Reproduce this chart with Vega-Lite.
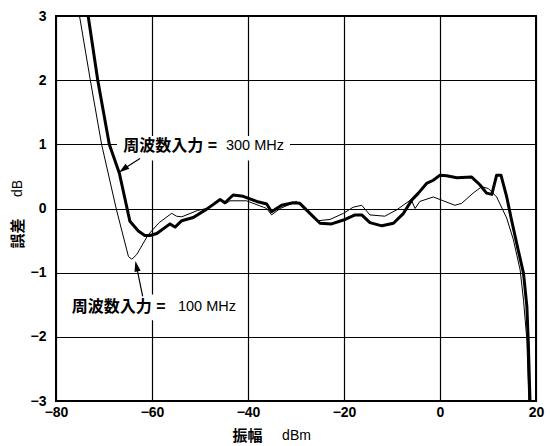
{
  "$schema": "https://vega.github.io/schema/vega-lite/v6.json",
  "width": 480,
  "height": 385,
  "autosize": "none",
  "padding": {"left": 56, "top": 16, "right": 14, "bottom": 45},
  "background": "white",
  "config": {
    "view": {"stroke": "black", "strokeWidth": 2},
    "font": "Liberation Sans",
    "axis": {
      "labelFont": "Liberation Sans",
      "labelColor": "black",
      "titleColor": "black",
      "titleFont": "Liberation Sans, Noto Sans CJK JP"
    }
  },
  "datasets": {
    "curves": [
      {"series": "300 MHz", "x": -73.3, "y": 3.0},
      {"series": "300 MHz", "x": -71.3, "y": 2.0},
      {"series": "300 MHz", "x": -68.9, "y": 1.0},
      {"series": "300 MHz", "x": -66.8, "y": 0.55},
      {"series": "300 MHz", "x": -64.6, "y": -0.2},
      {"series": "300 MHz", "x": -62.85, "y": -0.35},
      {"series": "300 MHz", "x": -61.5, "y": -0.42},
      {"series": "300 MHz", "x": -60.4, "y": -0.42},
      {"series": "300 MHz", "x": -59.0, "y": -0.39},
      {"series": "300 MHz", "x": -56.25, "y": -0.24},
      {"series": "300 MHz", "x": -55.2, "y": -0.29},
      {"series": "300 MHz", "x": -53.8, "y": -0.19},
      {"series": "300 MHz", "x": -51.4, "y": -0.14},
      {"series": "300 MHz", "x": -48.6, "y": -0.01},
      {"series": "300 MHz", "x": -45.8, "y": 0.14},
      {"series": "300 MHz", "x": -44.8, "y": 0.09},
      {"series": "300 MHz", "x": -43.1, "y": 0.21},
      {"series": "300 MHz", "x": -41.0, "y": 0.19},
      {"series": "300 MHz", "x": -38.2, "y": 0.11},
      {"series": "300 MHz", "x": -36.1, "y": 0.07},
      {"series": "300 MHz", "x": -35.1, "y": -0.05},
      {"series": "300 MHz", "x": -33.0, "y": 0.05},
      {"series": "300 MHz", "x": -30.6, "y": 0.09},
      {"series": "300 MHz", "x": -29.2, "y": 0.08},
      {"series": "300 MHz", "x": -27.1, "y": -0.075},
      {"series": "300 MHz", "x": -25.0, "y": -0.23},
      {"series": "300 MHz", "x": -22.6, "y": -0.24},
      {"series": "300 MHz", "x": -20.1, "y": -0.18},
      {"series": "300 MHz", "x": -17.7, "y": -0.1},
      {"series": "300 MHz", "x": -16.3, "y": -0.1},
      {"series": "300 MHz", "x": -14.6, "y": -0.22},
      {"series": "300 MHz", "x": -12.1, "y": -0.27},
      {"series": "300 MHz", "x": -9.7, "y": -0.23},
      {"series": "300 MHz", "x": -7.6, "y": -0.075},
      {"series": "300 MHz", "x": -5.9, "y": 0.13},
      {"series": "300 MHz", "x": -4.5, "y": 0.24},
      {"series": "300 MHz", "x": -2.8, "y": 0.39},
      {"series": "300 MHz", "x": -1.4, "y": 0.44},
      {"series": "300 MHz", "x": 0.0, "y": 0.52},
      {"series": "300 MHz", "x": 1.4, "y": 0.51},
      {"series": "300 MHz", "x": 3.5, "y": 0.48},
      {"series": "300 MHz", "x": 6.6, "y": 0.49},
      {"series": "300 MHz", "x": 8.3, "y": 0.37},
      {"series": "300 MHz", "x": 9.7, "y": 0.24},
      {"series": "300 MHz", "x": 10.8, "y": 0.22},
      {"series": "300 MHz", "x": 11.8, "y": 0.52},
      {"series": "300 MHz", "x": 12.7, "y": 0.52},
      {"series": "300 MHz", "x": 13.9, "y": 0.18},
      {"series": "300 MHz", "x": 14.9, "y": -0.18},
      {"series": "300 MHz", "x": 16.3, "y": -0.65},
      {"series": "300 MHz", "x": 17.4, "y": -1.01},
      {"series": "300 MHz", "x": 18.1, "y": -1.53},
      {"series": "300 MHz", "x": 18.4, "y": -2.1},
      {"series": "300 MHz", "x": 18.75, "y": -3.0},
      {"series": "100 MHz", "x": -75.1, "y": 3.0},
      {"series": "100 MHz", "x": -72.85, "y": 2.0},
      {"series": "100 MHz", "x": -70.5, "y": 1.0},
      {"series": "100 MHz", "x": -67.4, "y": -0.02},
      {"series": "100 MHz", "x": -64.9, "y": -0.75},
      {"series": "100 MHz", "x": -64.2, "y": -0.79},
      {"series": "100 MHz", "x": -63.2, "y": -0.72},
      {"series": "100 MHz", "x": -60.8, "y": -0.41},
      {"series": "100 MHz", "x": -58.5, "y": -0.22},
      {"series": "100 MHz", "x": -55.9, "y": -0.075},
      {"series": "100 MHz", "x": -54.9, "y": -0.12},
      {"series": "100 MHz", "x": -53.8, "y": -0.13},
      {"series": "100 MHz", "x": -50.5, "y": -0.03},
      {"series": "100 MHz", "x": -48.6, "y": 0.0},
      {"series": "100 MHz", "x": -45.8, "y": 0.13},
      {"series": "100 MHz", "x": -44.8, "y": 0.07},
      {"series": "100 MHz", "x": -43.75, "y": 0.12},
      {"series": "100 MHz", "x": -40.3, "y": 0.12},
      {"series": "100 MHz", "x": -36.8, "y": 0.02},
      {"series": "100 MHz", "x": -36.1, "y": 0.0},
      {"series": "100 MHz", "x": -35.1, "y": -0.1},
      {"series": "100 MHz", "x": -33.3, "y": 0.0},
      {"series": "100 MHz", "x": -29.9, "y": 0.11},
      {"series": "100 MHz", "x": -25.3, "y": -0.19},
      {"series": "100 MHz", "x": -22.9, "y": -0.17},
      {"series": "100 MHz", "x": -20.1, "y": -0.075},
      {"series": "100 MHz", "x": -18.1, "y": 0.02},
      {"series": "100 MHz", "x": -16.3, "y": 0.05},
      {"series": "100 MHz", "x": -14.6, "y": -0.1},
      {"series": "100 MHz", "x": -11.5, "y": -0.12},
      {"series": "100 MHz", "x": -9.0, "y": -0.02},
      {"series": "100 MHz", "x": -6.0, "y": 0.14},
      {"series": "100 MHz", "x": -5.2, "y": 0.0},
      {"series": "100 MHz", "x": -4.2, "y": 0.11},
      {"series": "100 MHz", "x": -1.4, "y": 0.18},
      {"series": "100 MHz", "x": 0.7, "y": 0.12},
      {"series": "100 MHz", "x": 3.1, "y": 0.05},
      {"series": "100 MHz", "x": 4.5, "y": 0.08},
      {"series": "100 MHz", "x": 6.9, "y": 0.24},
      {"series": "100 MHz", "x": 8.7, "y": 0.34},
      {"series": "100 MHz", "x": 10.1, "y": 0.31},
      {"series": "100 MHz", "x": 11.8, "y": 0.18},
      {"series": "100 MHz", "x": 13.9, "y": -0.15},
      {"series": "100 MHz", "x": 15.3, "y": -0.49},
      {"series": "100 MHz", "x": 16.7, "y": -0.96},
      {"series": "100 MHz", "x": 17.4, "y": -1.43},
      {"series": "100 MHz", "x": 18.1, "y": -2.05},
      {"series": "100 MHz", "x": 18.5, "y": -3.0}
    ],
    "boxes": [
      {"series": "300 MHz", "x": -67.3, "x2": -31.25, "y": 1.13, "y2": 0.75},
      {"series": "100 MHz", "x": -77.5, "x2": -41.9, "y": -1.34, "y2": -1.74}
    ],
    "arrows": [
      {"series": "300 MHz", "x": -62.5, "y": 0.78, "x2": -66.0, "y2": 0.61},
      {"series": "100 MHz", "x": -61.94, "y": -1.37, "x2": -63.23, "y2": -0.9}
    ],
    "labels": [
      {"series": "300 MHz", "xl": -66.0, "xr": -32.5, "y": 0.97, "head": "周波数入力 =", "freq": "300 MHz"},
      {"series": "100 MHz", "xl": -76.7, "xr": -42.5, "y": -1.535, "head": "周波数入力 =", "freq": "100 MHz"}
    ]
  },
  "resolve": {"axis": {"x": "independent", "y": "independent"}},
  "layer": [
    {
      "data": {"name": "boxes"},
      "mark": {"type": "rect", "fill": "white", "stroke": null},
      "encoding": {
        "x": {"field": "x", "type": "quantitative", "scale": {"domain": [-80, 20], "nice": false},
          "axis": {"orient": "bottom", "title": "dBm", "labels": false, "ticks": false, "domain": false, "grid": false,
            "titleFontWeight": "normal", "titleFontSize": 14, "titleX": 240, "titleY": 34, "titleBaseline": "middle", "titleAlign": "center"}},
        "x2": {"field": "x2"},
        "y": {"field": "y", "type": "quantitative", "scale": {"domain": [-3, 3], "nice": false},
          "axis": {"orient": "left", "title": "dB", "labels": false, "ticks": false, "domain": false, "grid": false,
            "titleFontWeight": "normal", "titleFontSize": 14, "titleX": -39, "titleY": 172, "titleBaseline": "middle", "titleAlign": "center", "titleAngle": -90}},
        "y2": {"field": "y2"}
      }
    },
    {
      "layer": [
        {
          "data": {"name": "curves"},
          "mark": {"type": "line", "color": "black", "clip": true, "strokeJoin": "round"},
          "encoding": {
            "x": {"field": "x", "type": "quantitative", "scale": {"domain": [-80, 20], "nice": false},
              "axis": {"orient": "bottom", "values": [-80, -60, -40, -20, 0, 20], "format": "d", "title": "振幅",
                "grid": true, "gridColor": "black", "gridOpacity": 1, "gridWidth": 1.2,
                "ticks": false, "domain": false, "labelFlush": false, "labelPadding": 4,
                "labelFontSize": 14, "labelFontWeight": "bold",
                "titleFontWeight": "bold", "titleFontSize": 15, "titleX": 191, "titleY": 34, "titleBaseline": "middle", "titleAlign": "center"}},
            "y": {"field": "y", "type": "quantitative", "scale": {"domain": [-3, 3], "nice": false},
              "axis": {"orient": "left", "values": [-3, -2, -1, 0, 1, 2, 3], "format": "d", "title": "誤差",
                "grid": true, "gridColor": "black", "gridOpacity": 1, "gridWidth": 1.2,
                "ticks": false, "domain": false, "labelFlush": false, "labelPadding": 10,
                "labelFontSize": 14, "labelFontWeight": "bold",
                "titleFontWeight": "bold", "titleFontSize": 15, "titleX": -39, "titleY": 217, "titleBaseline": "middle", "titleAlign": "center", "titleAngle": -90}},
            "strokeWidth": {"field": "series", "type": "nominal", "scale": {"domain": ["100 MHz", "300 MHz"], "range": [1, 3]}, "legend": null}
          }
        },
        {
          "data": {"name": "arrows"},
          "mark": {"type": "rule", "color": "black", "strokeWidth": 1.2},
          "encoding": {
            "x": {"field": "x", "type": "quantitative"},
            "y": {"field": "y", "type": "quantitative"},
            "x2": {"field": "x2"},
            "y2": {"field": "y2"}
          }
        },
        {
          "data": {"name": "arrows"},
          "transform": [{"filter": "datum.series == '300 MHz'"}],
          "mark": {"type": "point", "shape": "M0,-1L0.6,1L-0.6,1Z", "filled": true, "color": "black", "opacity": 1, "size": 110, "angle": 234},
          "encoding": {
            "x": {"field": "x2", "type": "quantitative"},
            "y": {"field": "y2", "type": "quantitative"}
          }
        },
        {
          "data": {"name": "arrows"},
          "transform": [{"filter": "datum.series == '100 MHz'"}],
          "mark": {"type": "point", "shape": "M0,-1L0.6,1L-0.6,1Z", "filled": true, "color": "black", "opacity": 1, "size": 110, "angle": 348},
          "encoding": {
            "x": {"field": "x2", "type": "quantitative"},
            "y": {"field": "y2", "type": "quantitative"}
          }
        },
        {
          "data": {"name": "labels"},
          "mark": {"type": "text", "align": "left", "baseline": "middle", "font": "Liberation Sans, Noto Sans CJK JP", "fontWeight": "bold", "fontSize": 16, "color": "black"},
          "encoding": {
            "x": {"field": "xl", "type": "quantitative"},
            "y": {"field": "y", "type": "quantitative"},
            "text": {"field": "head"}
          }
        },
        {
          "data": {"name": "labels"},
          "mark": {"type": "text", "align": "right", "baseline": "middle", "font": "Liberation Sans", "fontWeight": "normal", "fontSize": 14.5, "color": "black"},
          "encoding": {
            "x": {"field": "xr", "type": "quantitative"},
            "y": {"field": "y", "type": "quantitative"},
            "text": {"field": "freq"}
          }
        }
      ]
    }
  ]
}
